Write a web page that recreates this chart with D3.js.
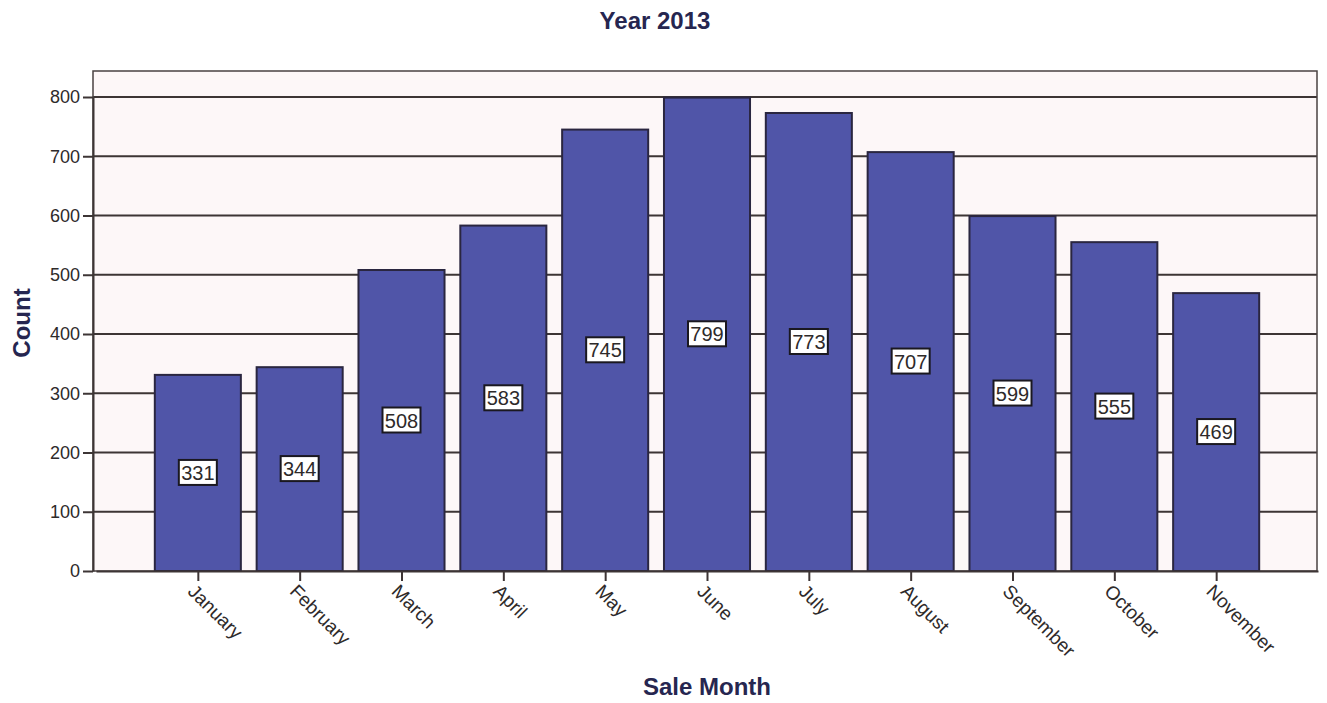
<!DOCTYPE html>
<html><head><meta charset="utf-8">
<script src="https://cdnjs.cloudflare.com/ajax/libs/d3/7.8.5/d3.min.js"></script>
<style>body{margin:0;background:#fff;}svg{display:block;font-family:"Liberation Sans",Arial,sans-serif;}</style>
</head><body>
<script>
const months = ["January","February","March","April","May","June","July","August","September","October","November"];
const counts = [331,344,508,583,745,799,773,707,599,555,469];
const yTicks = [0,100,200,300,400,500,600,700,800];

const W = 1327, H = 703;
const m = {left:93, right:1317, top:71, bottom:571};
const svg = d3.select("body").append("svg").attr("width",W).attr("height",H);

const x = d3.scalePoint().domain(months).range([m.left+3,m.right+1]).padding(1);
const bw = x.step()*0.845;
const y = d3.scaleLinear().domain([0,800]).range([m.bottom,97]);

svg.append("rect").attr("x",m.left).attr("y",m.top).attr("width",m.right-m.left).attr("height",m.bottom-m.top)
  .attr("fill","#fdf7f8");

// gridlines
svg.append("g").selectAll("line").data(yTicks.filter(d=>d>0)).join("line")
  .attr("x1",m.left).attr("x2",m.right).attr("y1",d=>y(d)).attr("y2",d=>y(d))
  .attr("stroke","#3d3535").attr("stroke-width",2);

// frame
svg.append("rect").attr("x",m.left).attr("y",m.top).attr("width",m.right-m.left).attr("height",m.bottom-m.top)
  .attr("fill","none").attr("stroke","#4a4242").attr("stroke-width",1.5);

// bars
svg.append("g").selectAll("rect").data(counts).join("rect")
  .attr("x",(d,i)=>x(months[i])-bw/2).attr("width",bw)
  .attr("y",d=>y(d)).attr("height",d=>y(0)-y(d))
  .attr("fill","#5055a8").attr("stroke","#2a2640").attr("stroke-width",2);

// y axis
const yAxis = d3.axisLeft(y).tickValues(yTicks).tickSize(10).tickSizeOuter(0).tickPadding(3);
const gy = svg.append("g").attr("transform",`translate(${m.left},0)`).call(yAxis);
gy.select(".domain").attr("stroke","#3d3535").attr("stroke-width",2);
gy.selectAll(".tick line").attr("stroke","#3d3535").attr("stroke-width",2);
gy.selectAll(".tick text").attr("font-size",18).attr("fill","#2e2a2a").attr("font-family","Liberation Sans, Arial, sans-serif");

// x axis
const xAxis = d3.axisBottom(x).tickSize(10).tickSizeOuter(0).tickPadding(2);
const gx = svg.append("g").attr("transform",`translate(0,${m.bottom})`).call(xAxis);
gx.select(".domain").attr("stroke","#3d3535").attr("stroke-width",2);
gx.selectAll(".tick line").attr("stroke","#3d3535").attr("stroke-width",2);
gx.selectAll(".tick text").attr("font-size",19).attr("fill","#2e2a2a")
  .attr("font-family","Liberation Sans, Arial, sans-serif")
  .attr("text-anchor","start").attr("dy",0).attr("dx",0)
  .attr("transform","translate(-3,13) rotate(45)");

// value labels
const lg = svg.append("g").selectAll("g").data(counts).join("g")
  .attr("transform",(d,i)=>`translate(${x(months[i])},${y(d/2)})`);
lg.append("rect").attr("x",-19).attr("y",-13).attr("width",38).attr("height",25)
  .attr("fill","#fff").attr("stroke","#1a1820").attr("stroke-width",2);
lg.append("text").text(d=>d).attr("text-anchor","middle").attr("dy","0.36em")
  .attr("font-size",20).attr("fill","#2e2a2a");

// titles
svg.append("text").text("Year 2013").attr("x",655).attr("y",29).attr("text-anchor","middle")
  .attr("font-size",24).attr("font-weight","bold").attr("fill","#262650");
svg.append("text").text("Sale Month").attr("x",707).attr("y",695).attr("text-anchor","middle")
  .attr("font-size",24).attr("font-weight","bold").attr("fill","#262650");
svg.append("text").text("Count").attr("transform","translate(30,323) rotate(-90)").attr("text-anchor","middle")
  .attr("font-size",24).attr("font-weight","bold").attr("fill","#262650");
</script>
</body></html>
